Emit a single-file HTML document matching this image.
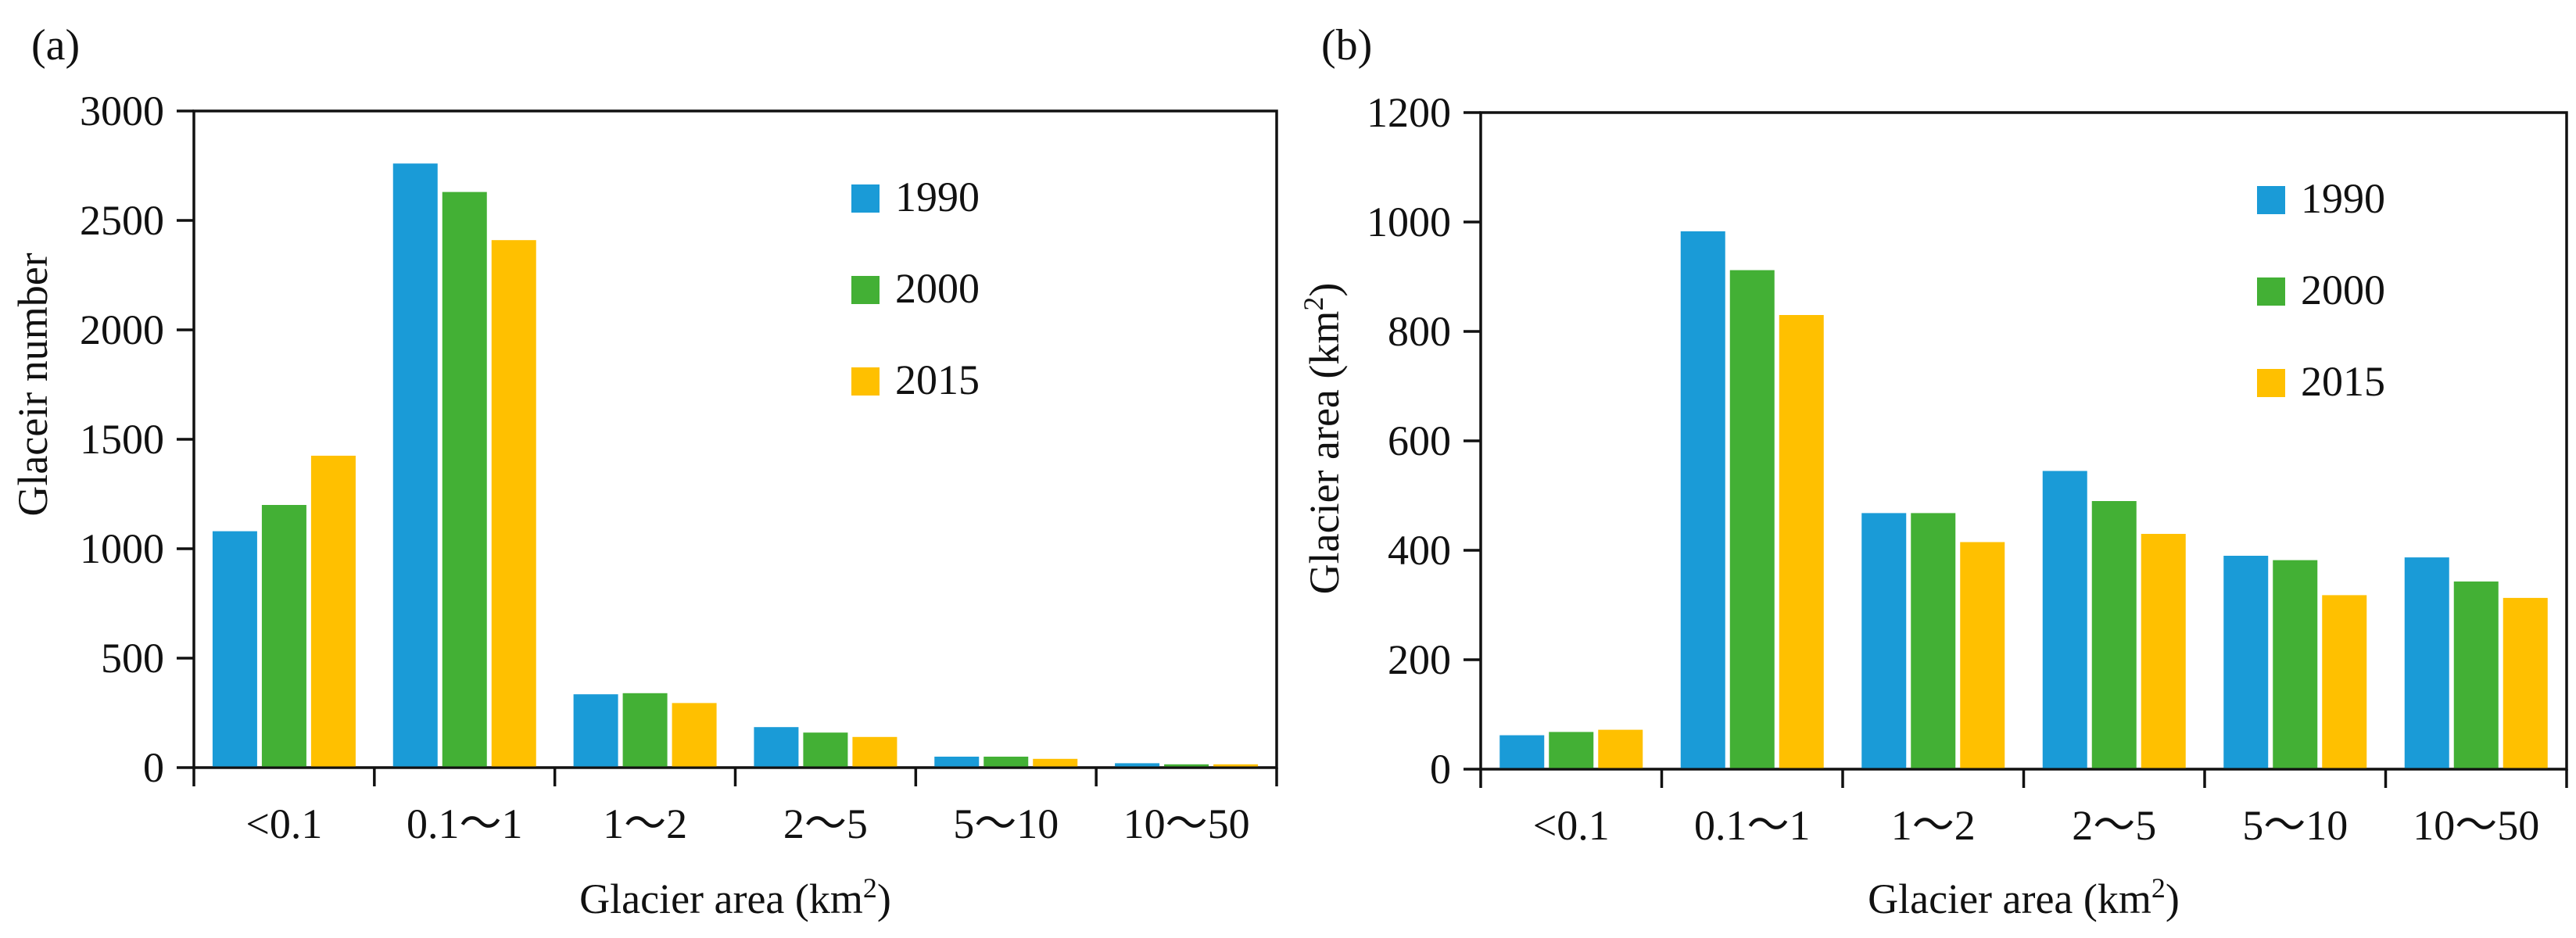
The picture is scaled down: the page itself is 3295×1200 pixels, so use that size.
<!DOCTYPE html>
<html><head><meta charset="utf-8"><style>
html,body{margin:0;padding:0;background:#fff;width:3295px;height:1200px;overflow:hidden}
svg text{font-family:"Liberation Serif",serif;fill:#111}
</style></head><body>
<svg id="chart" width="3295" height="1200" xmlns="http://www.w3.org/2000/svg"></svg>
<script>
const categories = ["<0.1","0.1～1","1～2","2～5","5～10","10～50"];
const years = ["1990","2000","2015"];
const colors = ["#1a9bd7","#43b035","#ffc000"];
const countA1990 = [1080,2760,335,185,50,20];
const countA2000 = [1200,2630,340,160,50,15];
const countA2015 = [1425,2410,295,140,40,15];
const ticksA = [0,500,1000,1500,2000,2500,3000];
const areaB1990 = [62,983,468,545,390,387];
const areaB2000 = [68,912,468,490,382,343];
const areaB2015 = [72,830,415,430,318,313];
const ticksB = [0,200,400,600,800,1000,1200];

const svg = document.getElementById('chart');
const NS = 'http://www.w3.org/2000/svg';
function mk(tag, attrs, parent){const e=document.createElementNS(NS,tag);for(const k in attrs)e.setAttribute(k,attrs[k]);(parent||svg).appendChild(e);return e;}

function panel(opt){
  const g = mk('g',{});
  
  
  const L=opt.left,R=opt.right,T=opt.top,B=opt.bottom,max=opt.max;
  const y = v => B - v/max*(B-T);
  const bw = (R-L)/categories.length;
  const x = i => L + i*bw;
  // frame
  const fr = mk('rect',{x:L,y:T,width:R-L,height:B-T,fill:'none',stroke:'#111','stroke-width':3.5},g);
  
  
  // y ticks
  opt.ticks.forEach(t=>{
    const ln = mk('line',{x1:L-22,x2:L,y1:y(t),y2:y(t),stroke:'#111','stroke-width':3.5},g);
    
    
    const tx = mk('text',{x:L-38,y:y(t)+18,'text-anchor':'end','font-size':54},g);
    tx.textContent = t;
    
    
  });
  // x ticks + labels
  for(let i=0;i<=categories.length;i++){
    const ln = mk('line',{x1:x(i),x2:x(i),y1:B,y2:B+24,stroke:'#111','stroke-width':3.5},g);
    
    
  }
  categories.forEach((c,i)=>{
    const tx = mk('text',{x:x(i)+bw/2,y:B+90,'text-anchor':'middle','font-size':54},g);
    tx.textContent = c;
    
    
  });
  // bars
  const barW = 57, gap = 6;
  opt.series.forEach((s,si)=>{
    s.forEach((v,i)=>{
      const cx = x(i)+bw/2 + (si-1)*(barW+gap);
      const r = mk('rect',{x:cx-barW/2,y:y(v),width:barW,height:B-y(v)-1.5,fill:colors[si]},g);
      
      
    });
  });
  // legend
  years.forEach((yr,si)=>{
    const ly = opt.legY + si*117;
    const sw = mk('rect',{x:opt.legX,y:ly,width:36,height:36,fill:colors[si]},g);
    
    
    const tx = mk('text',{x:opt.legX+56,y:ly+34,'font-size':54},g);
    tx.textContent = yr;
    
    
  });
  // titles
  const xt = mk('text',{x:(L+R)/2,y:1168,'text-anchor':'middle','font-size':54},g);
  xt.innerHTML = 'Glacier area (km<tspan font-size="36" dy="-20">2</tspan><tspan dy="20">)</tspan>';
  
  
  const yt = mk('text',{x:0,y:0,'text-anchor':'middle','font-size':54,transform:`translate(${opt.ytX},${opt.ytY}) rotate(-90)`},g);
  yt.innerHTML = opt.ytitle;
  
  
  const pl = mk('text',{x:opt.tagX,y:76,'font-size':56},g);
  pl.textContent = opt.tag;
  
  
}

panel({name:'panel-a',left:248,right:1633,top:142,bottom:982,max:3000,ticks:ticksA,
  series:[countA1990,countA2000,countA2015],legX:1089,legY:236,
  ytitle:'Glaceir number',ytX:60,ytY:492,tag:'(a)',tagX:40});
panel({name:'panel-b',left:1894,right:3283,top:144,bottom:984,max:1200,ticks:ticksB,
  series:[areaB1990,areaB2000,areaB2015],legX:2887,legY:238,
  ytitle:'Glacier area (km<tspan font-size="36" dy="-20">2</tspan><tspan dy="20">)</tspan>',ytX:1712,ytY:561,tag:'(b)',tagX:1690});
</script>
</body></html>
